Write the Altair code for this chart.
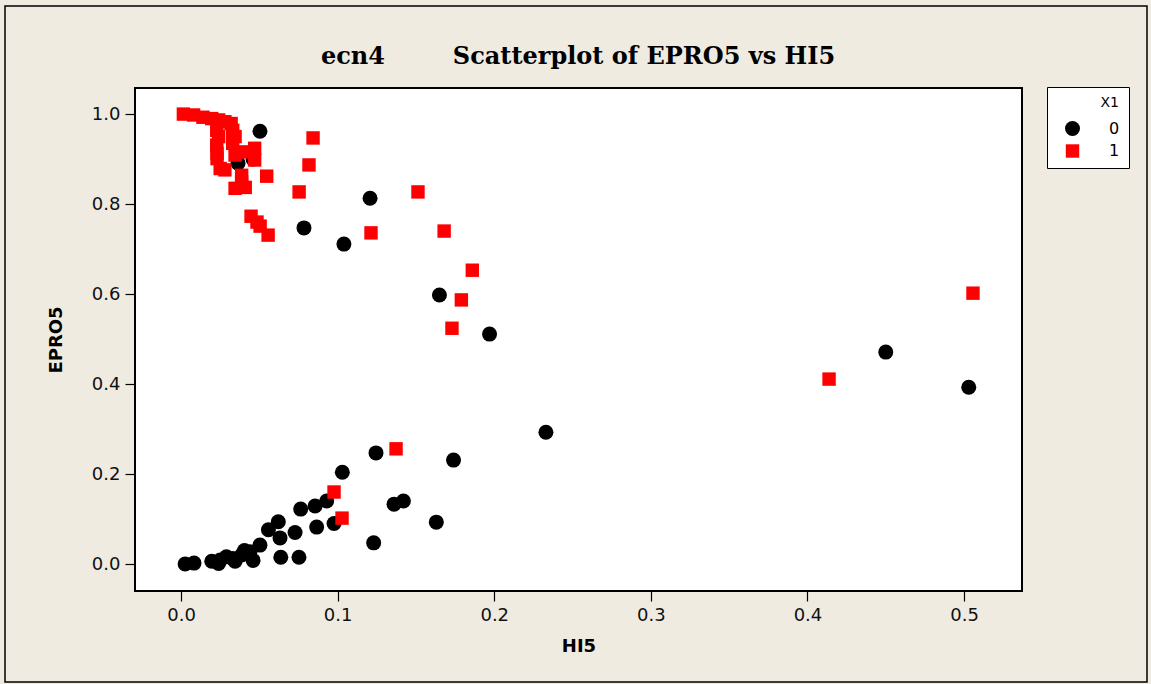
import altair as alt
import pandas as pd

# ---- data ----
x1_0 = [0.0504, 0.0364, 0.046, 0.0785, 0.104, 0.1207, 0.165, 0.197, 0.233, 0.450,
        0.503, 0.103, 0.1245, 0.174, 0.136, 0.142, 0.123, 0.163, 0.093, 0.0856,
        0.0764, 0.0977, 0.0866, 0.0621, 0.0558, 0.0632, 0.0728, 0.0504, 0.0637, 0.0753,
        0.0026, 0.0083, 0.0196, 0.025, 0.029, 0.024, 0.0345, 0.0387, 0.046, 0.044,
        0.0405, 0.033]
y1_0 = [0.962, 0.891, 0.900, 0.747, 0.711, 0.813, 0.598, 0.511, 0.293, 0.471,
        0.393, 0.204, 0.247, 0.231, 0.133, 0.140, 0.047, 0.093, 0.140, 0.129,
        0.122, 0.090, 0.082, 0.094, 0.076, 0.058, 0.070, 0.042, 0.015, 0.015,
        0.000, 0.002, 0.006, 0.009, 0.016, 0.001, 0.006, 0.020, 0.008, 0.027,
        0.030, 0.012]

x1_1 = [0.0015, 0.008, 0.014, 0.0196, 0.024, 0.028, 0.032, 0.033, 0.0228, 0.024,
        0.0345, 0.0228, 0.033, 0.023, 0.023, 0.0345, 0.041, 0.047, 0.047, 0.025,
        0.028, 0.0387, 0.0387, 0.0345, 0.041, 0.0547, 0.0843, 0.0817, 0.0754, 0.0447,
        0.0485, 0.0505, 0.0556, 0.1213, 0.1513, 0.168, 0.186, 0.179, 0.173, 0.5057,
        0.4138, 0.1373, 0.0977, 0.1028]
y1_1 = [1.000, 0.998, 0.993, 0.990, 0.987, 0.983, 0.979, 0.964, 0.964, 0.950,
        0.950, 0.931, 0.935, 0.913, 0.901, 0.909, 0.916, 0.924, 0.898, 0.879,
        0.876, 0.864, 0.850, 0.835, 0.837, 0.862, 0.947, 0.887, 0.827, 0.773,
        0.760, 0.751, 0.731, 0.736, 0.827, 0.740, 0.653, 0.587, 0.524, 0.602,
        0.411, 0.256, 0.160, 0.102]

x_ticks = [0.0, 0.1, 0.2, 0.3, 0.4, 0.5]
y_ticks = [0.0, 0.2, 0.4, 0.6, 0.8, 1.0]
title_left = "ecn4"
title_main = "Scatterplot of EPRO5 vs HI5"

df = pd.DataFrame({
    "HI5": x1_0 + x1_1,
    "EPRO5": y1_0 + y1_1,
    "X1": ["0"] * len(x1_0) + ["1"] * len(x1_1),
})

W, H = 887, 503
BG = "#EFEBE1"

points = alt.Chart(df).mark_point(filled=True, opacity=1, size=200).encode(
    x=alt.X("HI5:Q",
            scale=alt.Scale(domain=[-0.0294, 0.537], nice=False, zero=False),
            axis=alt.Axis(values=x_ticks, format=".1f", title="HI5")),
    y=alt.Y("EPRO5:Q",
            scale=alt.Scale(domain=[-0.06, 1.058], nice=False, zero=False),
            axis=alt.Axis(values=y_ticks, format=".1f", title="EPRO5")),
    color=alt.Color("X1:N", scale=alt.Scale(domain=["0", "1"], range=["#000000", "#FF0000"]),
                    legend=alt.Legend(title="X1", orient="none", legendX=912, legendY=-1,
                                      fillColor="white", strokeColor="black", padding=9,
                                      titleAnchor="end", titleFontWeight="normal",
                                      titleFontSize=14, titleFont="DejaVu Sans",
                                      titleColor="black", titlePadding=10,
                                      labelFontSize=16, labelFont="DejaVu Sans",
                                      labelColor="black", labelOffset=28, symbolOffset=8,
                                      symbolSize=190, rowPadding=6)),
    shape=alt.Shape("X1:N", scale=alt.Scale(domain=["0", "1"], range=["circle", "square"])),
    size=alt.Size("X1:N", scale=alt.Scale(domain=["0", "1"], range=[225, 180]), legend=None),
    order=alt.Order("X1:N"),
)

frame = alt.Chart(pd.DataFrame({"a": [0]})).mark_rect(
    fill=None, stroke="black", strokeWidth=1.5
).encode(x=alt.value(-130), x2=alt.value(1012), y=alt.value(-82), y2=alt.value(594))

t1 = alt.Chart(pd.DataFrame({"t": [title_left]})).mark_text(
    font="DejaVu Serif", fontSize=24, fontWeight="bold", color="black"
).encode(text="t:N", x=alt.value(218), y=alt.value(-31))

t2 = alt.Chart(pd.DataFrame({"t": [title_main]})).mark_text(
    font="DejaVu Serif", fontSize=24, fontWeight="bold", color="black"
).encode(text="t:N", x=alt.value(509), y=alt.value(-31))

chart = alt.layer(frame, t1, t2, points).properties(
    width=W, height=H,
    padding={"left": 135, "top": 88, "right": 129, "bottom": 93},
    autosize=alt.AutoSizeParams(type="none"),
    background=BG,
).configure_view(
    fill="white", stroke="black", strokeWidth=2
).configure_axis(
    grid=False, domain=False, tickColor="black", tickSize=10, tickWidth=1.2,
    labelFont="DejaVu Sans", labelFontSize=18, labelColor="#111111", labelPadding=5,
    titleFont="DejaVu Sans", titleFontSize=18, titleFontWeight="bold", titleColor="black",
).configure_axisX(titlePadding=13).configure_axisY(titlePadding=26)

chart.save("out.html", embed_options={"renderer": "svg", "actions": False})
